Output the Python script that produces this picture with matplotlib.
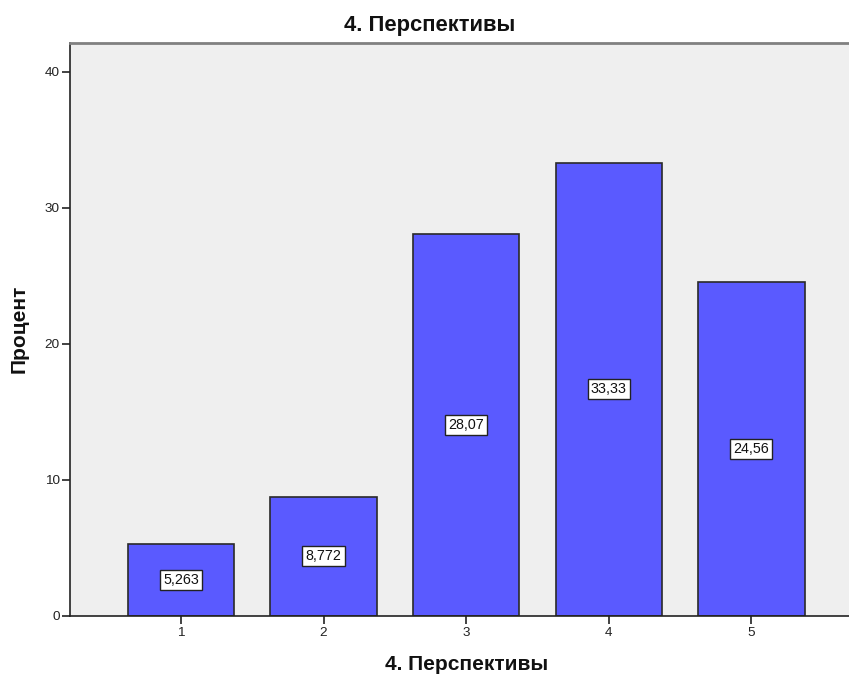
import matplotlib
matplotlib.use("Agg")
import matplotlib.pyplot as plt

categories = ["1", "2", "3", "4", "5"]
percent = [5.263, 8.772, 28.07, 33.33, 24.56]
value_labels = ["5,263", "8,772", "28,07", "33,33", "24,56"]
y_ticks = [0, 10, 20, 30, 40]
title = "4. Перспективы"
x_title = "4. Перспективы"
y_title = "Процент"

plt.rcParams["font.family"] = ["Liberation Sans", "DejaVu Sans"]

W, H = 849, 680
fig = plt.figure(figsize=(W / 100, H / 100), dpi=100)
ax = fig.add_axes([70 / W, 64 / H, 1 - 70 / W, (616 - 43) / H])
ax.set_facecolor("#EFEFEF")

x = list(range(1, len(categories) + 1))
ax.bar(x, percent, width=0.745, color="#5A5AFF", edgecolor="#2a2a2a",
       linewidth=1.2, zorder=2)

for xi, v, lab in zip(x, percent, value_labels):
    ax.text(xi, v / 2, lab, ha="center", va="center", fontsize=10.3,
            color="#111111", zorder=3,
            bbox=dict(boxstyle="square,pad=0.22", facecolor="white",
                      edgecolor="#222222", linewidth=1.0))

ax.set_xlim(0.222, 5.684)
ax.set_ylim(0, 42.13)
ax.set_xticks(x)
ax.set_xticklabels(categories)
ax.set_yticks(y_ticks)
ax.tick_params(axis="both", direction="out", length=6, width=1.2,
               labelsize=9.7, colors="#222222")
ax.tick_params(axis="y", pad=1.5)
ax.tick_params(axis="x", pad=2)

ax.spines["right"].set_visible(False)
ax.spines["top"].set_color("#808080")
ax.spines["top"].set_linewidth(2)
for side in ("left", "bottom"):
    ax.spines[side].set_color("#222222")
    ax.spines[side].set_linewidth(1.2)

fig.text(430 / W, 1 - 26 / H, title, ha="center", va="center",
         fontsize=15.8, fontweight="bold", color="#111111")
fig.text(467 / W, 1 - 664 / H, x_title, ha="center", va="center",
         fontsize=15, fontweight="bold", color="#111111")
fig.text(19.5 / W, 1 - 329 / H, y_title, ha="center", va="center",
         rotation=90, fontsize=15, fontweight="bold", color="#111111")

fig.savefig("out.png", dpi=100)
